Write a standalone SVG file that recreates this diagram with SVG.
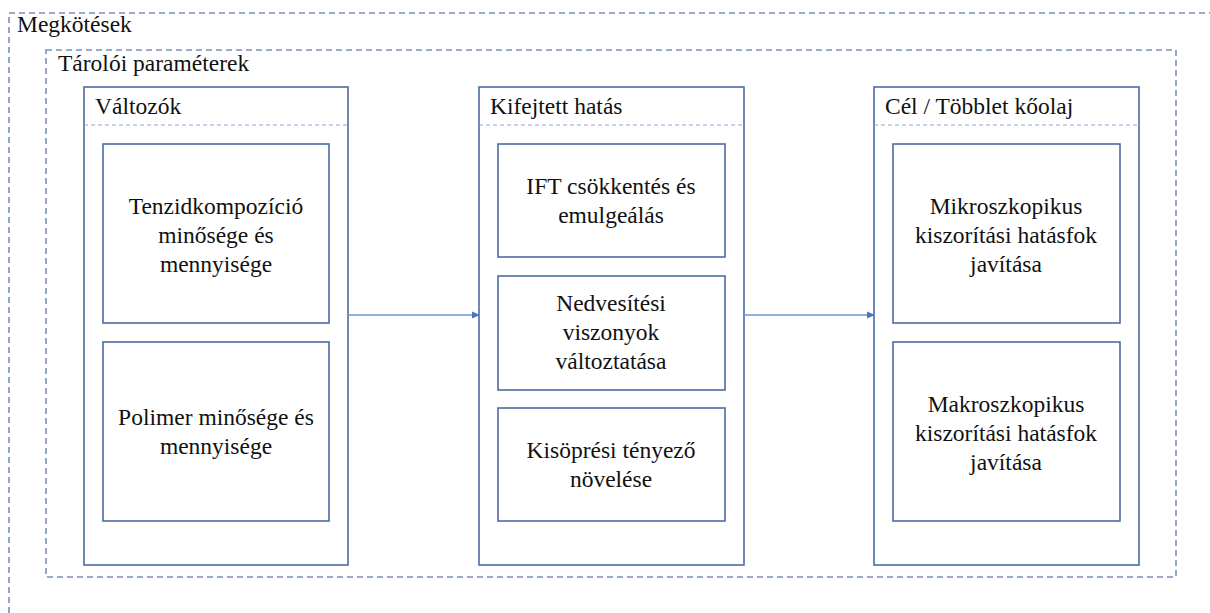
<svg xmlns="http://www.w3.org/2000/svg" width="1210" height="613" viewBox="0 0 1210 613" font-family="'Liberation Serif', 'Times New Roman', 'DejaVu Serif', serif">
<style>
text{font-family:'Liberation Serif','Times New Roman','DejaVu Serif',serif;font-size:23.5px;fill:#111}
.c{text-anchor:middle}
.dash{fill:none;stroke:#7b8fb8;stroke-width:1.6;stroke-dasharray:6 4}
.col{fill:#fff;stroke:#4e6ba6;stroke-width:1.6}
.sep{stroke:#8ea6d4;stroke-width:1;stroke-dasharray:4 3}
.box{fill:#fff;stroke:#4e6ba6;stroke-width:1.6}
.conn{stroke:#6f93d8;stroke-width:1.3;fill:none}
</style>
<defs>
<marker id="ah" markerWidth="8" markerHeight="8" refX="7" refY="4" orient="auto" markerUnits="userSpaceOnUse">
<path d="M0,0.5 L8,4 L0,7.5 Z" fill="#4e74c8"/>
</marker>
</defs>
<rect width="1210" height="613" fill="#fff"/>
<g id="megkotesek">
<path class="dash" d="M9,613 V13 H1210"/>
<text x="17" y="32">Megkötések</text>
</g>
<g id="taroloi">
<rect class="dash" x="46" y="50" width="1130" height="527"/>
<text x="58" y="71">Tárolói paraméterek</text>
</g>
<g id="valtozok">
<rect class="col" x="84" y="87" width="264" height="478"/>
<line class="sep" x1="84" y1="125" x2="348" y2="125"/>
<text x="95" y="114">Változók</text>
</g>
<g id="tenzid">
<rect class="box" x="103" y="144" width="226" height="179"/>
<text class="c" x="216" y="214">Tenzidkompozíció</text>
<text class="c" x="216" y="243">minősége és</text>
<text class="c" x="216" y="272">mennyisége</text>
</g>
<g id="polimer">
<rect class="box" x="103" y="342" width="226" height="179"/>
<text class="c" x="216" y="425">Polimer minősége és</text>
<text class="c" x="216" y="454">mennyisége</text>
</g>
<g id="kifejtett">
<rect class="col" x="479" y="87" width="265" height="478"/>
<line class="sep" x1="479" y1="125" x2="744" y2="125"/>
<text x="490" y="114">Kifejtett hatás</text>
</g>
<g id="ift">
<rect class="box" x="498" y="144" width="227" height="113"/>
<text class="c" x="611" y="194">IFT csökkentés és</text>
<text class="c" x="611" y="223">emulgeálás</text>
</g>
<g id="nedvesitesi">
<rect class="box" x="498" y="276" width="227" height="114"/>
<text class="c" x="611" y="311">Nedvesítési</text>
<text class="c" x="611" y="340">viszonyok</text>
<text class="c" x="611" y="369">változtatása</text>
</g>
<g id="kisopresi">
<rect class="box" x="498" y="408" width="227" height="113"/>
<text class="c" x="611" y="458">Kisöprési tényező</text>
<text class="c" x="611" y="487">növelése</text>
</g>
<g id="cel">
<rect class="col" x="874" y="87" width="265" height="478"/>
<line class="sep" x1="874" y1="125" x2="1139" y2="125"/>
<text x="885" y="114">Cél / Többlet kőolaj</text>
</g>
<g id="mikro">
<rect class="box" x="893" y="144" width="227" height="179"/>
<text class="c" x="1006" y="214">Mikroszkopikus</text>
<text class="c" x="1006" y="243">kiszorítási hatásfok</text>
<text class="c" x="1006" y="272">javítása</text>
</g>
<g id="makro">
<rect class="box" x="893" y="342" width="227" height="179"/>
<text class="c" x="1006" y="412">Makroszkopikus</text>
<text class="c" x="1006" y="441">kiszorítási hatásfok</text>
<text class="c" x="1006" y="470">javítása</text>
</g>
<g id="connectors">
<line class="conn" x1="348" y1="315" x2="479" y2="315" marker-end="url(#ah)"/>
<line class="conn" x1="744" y1="315" x2="874" y2="315" marker-end="url(#ah)"/>
</g>
</svg>
